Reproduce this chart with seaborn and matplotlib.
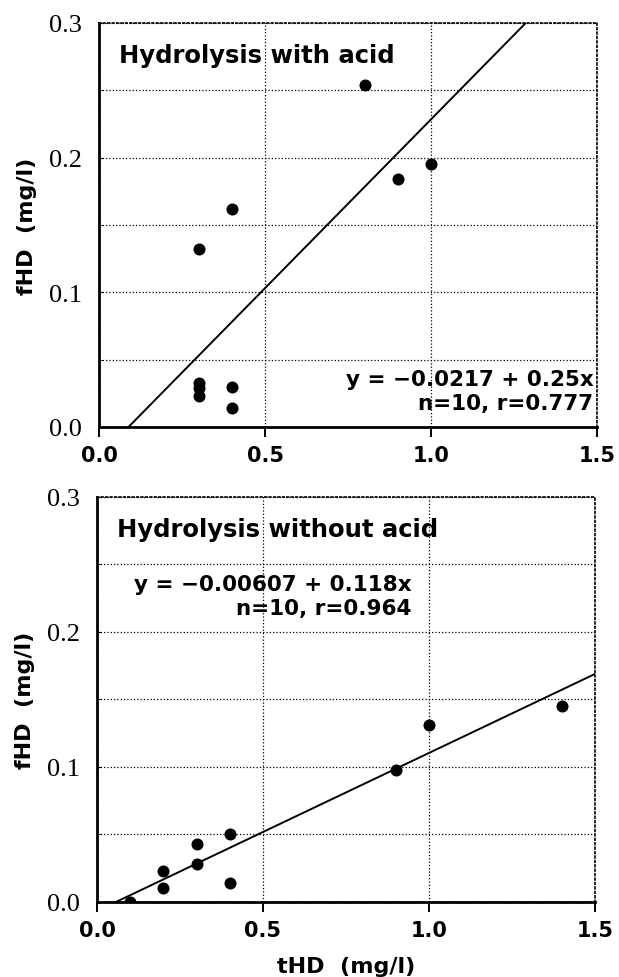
import numpy as np
import pandas as pd
import matplotlib
matplotlib.use("Agg")
import matplotlib.pyplot as plt
import seaborn as sns

# data
acid_thd = [0.8, 0.9, 1.0, 0.4, 0.3, 0.3, 0.3, 0.3, 0.4, 0.4]
acid_fhd = [0.254, 0.184, 0.195, 0.162, 0.132, 0.033, 0.029, 0.023, 0.030, 0.014]
acid_eq = ["y = \u22120.0217 + 0.25x", "n=10, r=0.777"]

noacid_thd = [0.1, 0.2, 0.2, 0.3, 0.3, 0.4, 0.4, 0.9, 1.0, 1.4]
noacid_fhd = [0.0, 0.023, 0.010, 0.043, 0.028, 0.050, 0.014, 0.098, 0.131, 0.145]
noacid_eq = ["y = \u22120.00607 + 0.118x", "n=10, r=0.964"]

x_ticks = [0.0, 0.5, 1.0, 1.5]
y_ticks = [0.0, 0.1, 0.2, 0.3]
y_minor = [0.05, 0.15, 0.25]

sns.set_style("white", {'text.color': 'black', 'axes.labelcolor': 'black',
                        'xtick.color': 'black', 'ytick.color': 'black'})
plt.rcParams['font.family'] = ['DejaVu Sans']


def panel(ax, x, y, title, eq, eq_pos):
    """
    Scatter with a least squares line over the full x range
    """
    ax.set_xlim(0, 1.5)
    ax.set_ylim(0, 0.3)
    df = pd.DataFrame({'tHD': x, 'fHD': y})
    sns.regplot(data=df, x='tHD', y='fHD', ax=ax, ci=None, truncate=False,
                scatter_kws={'s': 75, 'color': 'black', 'alpha': 1, 'zorder': 3,
                             'linewidths': 0},
                line_kws={'color': 'black', 'lw': 1.4})
    ax.set_xlim(0, 1.5)
    ax.set_ylim(0, 0.3)

    ax.set_xticks(x_ticks)
    ax.set_xticklabels(['%.1f' % t for t in x_ticks], fontsize=15, fontweight='bold')
    ax.set_yticks(y_ticks)
    ax.set_yticklabels(['%.1f' % t for t in y_ticks], fontsize=19,
                       family='Liberation Serif')
    ax.set_yticks(y_minor, minor=True)
    ax.grid(True, which='both', axis='y', color='black', ls=':', lw=0.9)
    ax.grid(True, which='major', axis='x', color='black', ls=':', lw=0.9)
    ax.tick_params(axis='x', direction='out', length=7, width=1.4, pad=6, bottom=True)
    ax.tick_params(axis='y', which='both', direction='in', length=3, left=True, pad=12)

    for s in ['left', 'bottom']:
        ax.spines[s].set_linewidth(2.0)
        ax.spines[s].set_color('black')
    for s in ['top', 'right']:
        ax.spines[s].set_linewidth(1.2)
        ax.spines[s].set_linestyle(':')
        ax.spines[s].set_color('black')

    ax.text(0.04, 0.92, title, transform=ax.transAxes, fontsize=17.5,
            fontweight='bold', va='center', ha='left')
    ax.text(eq_pos[0], eq_pos[1], eq[0] + '\n' + eq[1], transform=ax.transAxes,
            fontsize=15.5, fontweight='bold', ha='right', va='center',
            multialignment='right', linespacing=1.25)
    ax.set_xlabel('')
    ax.set_ylabel('fHD  (mg/l)', fontsize=16, fontweight='bold')
    ax.yaxis.set_label_coords(-0.125, 0.5)


fig = plt.figure(figsize=(6.19, 9.78), dpi=100)
ax1 = fig.add_axes([0.160, 0.5624, 0.8045, 0.4131])
ax2 = fig.add_axes([0.1567, 0.0767, 0.8045, 0.4141])

panel(ax1, acid_thd, acid_fhd, 'Hydrolysis with acid', acid_eq, (0.993, 0.089))
panel(ax2, noacid_thd, noacid_fhd, 'Hydrolysis without acid', noacid_eq, (0.632, 0.755))
ax2.set_xlabel('tHD  (mg/l)', fontsize=16, fontweight='bold')
ax2.xaxis.set_label_coords(0.5, -0.133)

fig.savefig('out.png', dpi=100)
